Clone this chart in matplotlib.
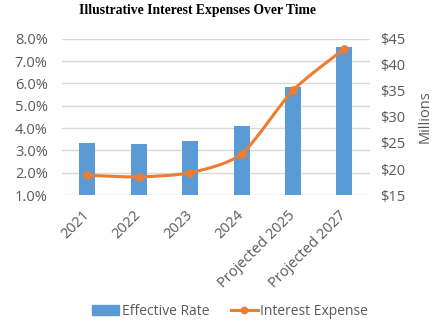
import numpy as np
import matplotlib.pyplot as plt
from matplotlib.path import Path
from matplotlib.patches import PathPatch
from matplotlib.lines import Line2D
from matplotlib.ticker import FuncFormatter

# Data
years = ['2021', '2022', '2023', '2024', 'Projected 2025', 'Projected 2027']
effective_rate = [3.33, 3.29, 3.42, 4.08, 5.83, 7.64]        # percent
interest_expense = [18.8, 18.5, 19.3, 22.9, 35.1, 43.1]      # $ millions

BAR_COLOR = '#5B9BD5'
LINE_COLOR = '#ED7D31'
TEXT_COLOR = '#595959'
GRID_COLOR = '#D9D9D9'

plt.rcParams['font.family'] = ['Open Sans', 'DejaVu Sans']

fig = plt.figure(figsize=(4.37, 3.23), dpi=100)
ax1 = fig.add_axes([0.141, 0.396, 0.706, 0.484])

x = np.arange(len(years))
ax1.bar(x, effective_rate, width=0.31, color=BAR_COLOR, zorder=2)
ax1.set_ylim(1, 8)
ax1.set_yticks(np.arange(1, 9))
ax1.yaxis.set_major_formatter(FuncFormatter(lambda v, p: f'{v:.1f}%'))
ax1.set_xlim(-0.5, len(years) - 0.5)
ax1.set_xticks(x)
ax1.set_xticklabels(years, rotation=45, ha='right', va='center',
                    rotation_mode='anchor')
ax1.grid(axis='y', color=GRID_COLOR, linewidth=1, zorder=0)
ax1.set_axisbelow(True)

# Secondary axis: interest expense, drawn as a smoothed line like Excel
ax2 = ax1.twinx()
ax2.set_ylim(15, 45)
ax2.set_yticks(np.arange(15, 50, 5))
ax2.yaxis.set_major_formatter(FuncFormatter(lambda v, p: f'${v:.0f}'))
ax2.set_ylabel('Millions', color=TEXT_COLOR, fontsize=10.5, labelpad=9)

pts = np.column_stack([x, interest_expense]).astype(float)
verts = [pts[0]]
codes = [Path.MOVETO]
k = 1 / 8.0
for i in range(len(pts) - 1):
    p0 = pts[max(i - 1, 0)]
    p1 = pts[i]
    p2 = pts[i + 1]
    p3 = pts[min(i + 2, len(pts) - 1)]
    c1 = p1 + (p2 - p0) * k
    c2 = p2 - (p3 - p1) * k
    verts += [c1, c2, p2]
    codes += [Path.CURVE4] * 3
ax2.add_patch(PathPatch(Path(verts, codes), facecolor='none',
                        edgecolor=LINE_COLOR, linewidth=2.2, zorder=3))
ax2.plot(x, interest_expense, linestyle='none', marker='o', markersize=5.2,
         color=LINE_COLOR, zorder=4)

for ax in (ax1, ax2):
    for s in ax.spines.values():
        s.set_visible(False)
    ax.tick_params(length=0, labelsize=10.5, labelcolor=TEXT_COLOR)
ax1.tick_params(axis='y', pad=10)
ax2.tick_params(axis='y', pad=7)
ax1.tick_params(axis='x', pad=13)

fig.text(0.451, 0.968, 'Illustrative Interest Expenses Over Time',
         ha='center', va='center', fontsize=9.8, fontweight='bold',
         family=['Liberation Serif', 'DejaVu Serif'], color='black')

handles = [plt.Rectangle((0, 0), 1, 1, color=BAR_COLOR),
           Line2D([0], [0], color=LINE_COLOR, linewidth=2.2, marker='o',
                  markersize=4.5)]
fig.legend(handles, ['Effective Rate', 'Interest Expense'], loc='center',
           bbox_to_anchor=(0.527, 0.037), ncol=2, frameon=False,
           fontsize=10, labelcolor=TEXT_COLOR, handlelength=1.9,
           handletextpad=0.2, columnspacing=1.6)

fig.savefig('out.png', dpi=100)
